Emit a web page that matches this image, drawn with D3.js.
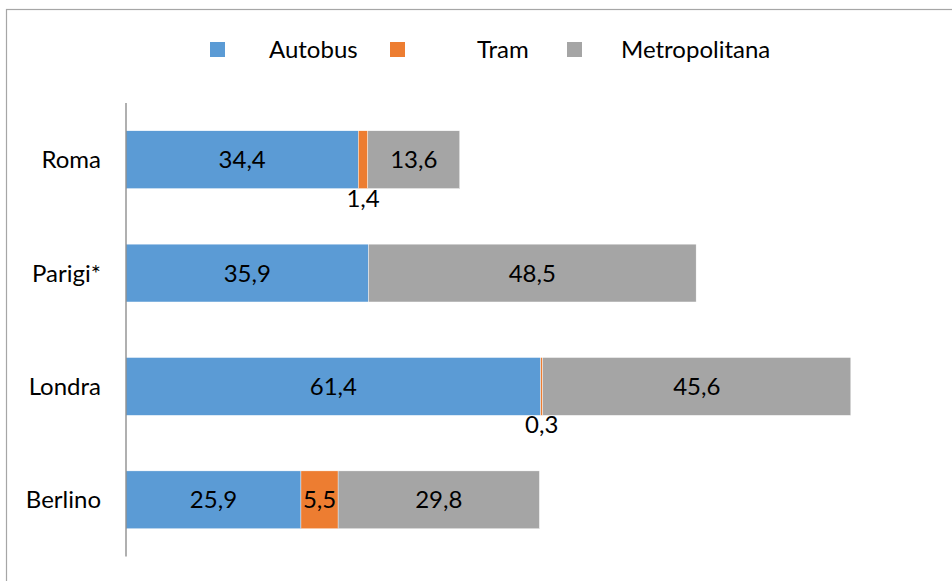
<!DOCTYPE html>
<html><head><meta charset="utf-8">
<script src="https://cdn.jsdelivr.net/npm/d3@7"></script>
<style>body{margin:0;background:#fff}svg{display:block}text{font-family:Lato,"Open Sans",sans-serif;fill:#000}</style>
</head><body>
<script>
const categories = ["Roma", "Parigi*", "Londra", "Berlino"];
const seriesNames = ["Autobus", "Tram", "Metropolitana"];
const autobus = [34.4, 35.9, 61.4, 25.9];
const tram = [1.4, 0, 0.3, 5.5];
const metropolitana = [13.6, 48.5, 45.6, 29.8];
const colors = ["#5B9BD5", "#ED7D31", "#A5A5A5"];

const W = 952, H = 581, FS = 24;
const svg = d3.select("body").append("svg").attr("width", W).attr("height", H);
svg.append("rect").attr("x", 6.5).attr("y", 9.5).attr("width", 1200).attr("height", 1200)
  .attr("fill", "#fff").attr("stroke", "#a6a6a6").attr("stroke-width", 1.2);

const rows = categories.map((c, i) => ({cat: c, Autobus: autobus[i], Tram: tram[i], Metropolitana: metropolitana[i]}));
const stack = d3.stack().keys(seriesNames)(rows);

const x = d3.scaleLinear().domain([0, 120]).range([126, 936.6]);
const y = d3.scaleBand().domain(categories).range([103, 556.5]).paddingInner(0.49).paddingOuter(0.245);

stack.forEach((layer, si) => {
  const g = svg.append("g");
  layer.forEach((d, i) => {
    const v = d[1] - d[0];
    if (!v) return;
    g.append("rect").attr("x", x(d[0])).attr("y", y(categories[i]))
      .attr("width", x(d[1]) - x(d[0])).attr("height", y.bandwidth())
      .attr("fill", colors[si]).attr("stroke", "#fff").attr("stroke-width", 0.4);
  });
});
stack.forEach((layer, si) => {
  layer.forEach((d, i) => {
    const v = d[1] - d[0];
    if (!v) return;
    const label = d3.format(".1f")(v).replace(".", ",");
    const w = x(d[1]) - x(d[0]);
    const cx = (x(d[0]) + x(d[1])) / 2;
    const t = svg.append("text").attr("x", cx).attr("text-anchor", "middle").style("font-size", FS + "px").text(label);
    if (w < 30) {
      t.attr("y", y(categories[i]) + y.bandwidth() + 18);
    } else {
      t.attr("y", y(categories[i]) + y.bandwidth() / 2).attr("dy", "0.36em");
    }
  });
});

// category axis
svg.append("line").attr("x1", 126).attr("x2", 126).attr("y1", 103).attr("y2", 556.5)
  .attr("stroke", "#868686").attr("stroke-width", 1.3);
categories.forEach(c => {
  svg.append("text").attr("x", 101).attr("y", y(c) + y.bandwidth() / 2).attr("dy", "0.36em")
    .attr("text-anchor", "end").style("font-size", FS + "px").text(c);
});

// legend
const legX = [210, 390, 567];
const legTX = [269, 477, 621];
seriesNames.forEach((s, i) => {
  svg.append("rect").attr("x", legX[i]).attr("y", 42).attr("width", 15).attr("height", 15).attr("fill", colors[i]);
  svg.append("text").attr("x", legTX[i]).attr("y", 49.5).attr("dy", "0.36em").style("font-size", FS + "px").text(s);
});
</script>
</body></html>
